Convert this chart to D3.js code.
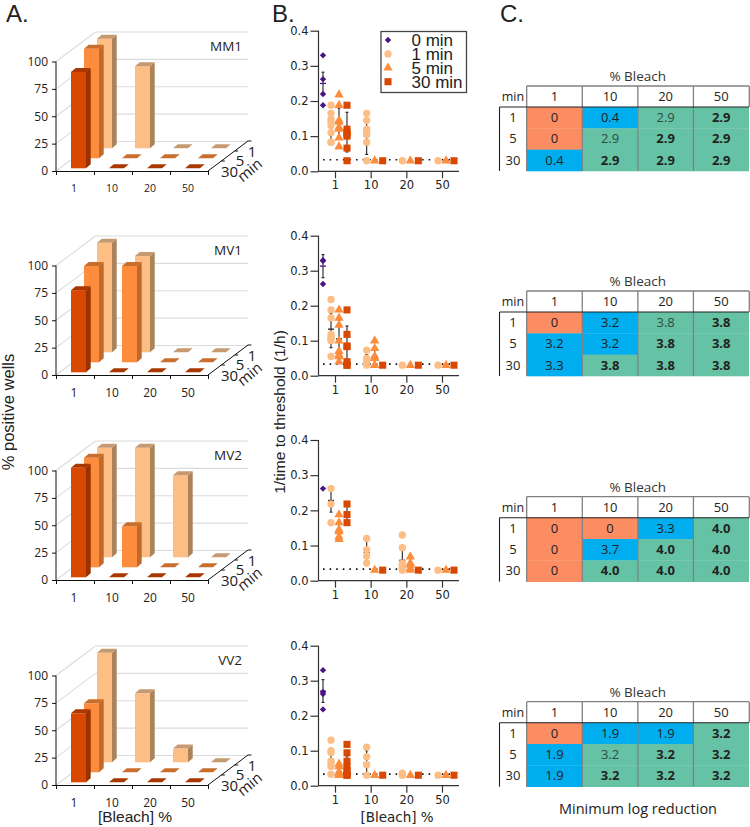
<!DOCTYPE html>
<html><head><meta charset="utf-8">
<script src="https://cdnjs.cloudflare.com/ajax/libs/d3/7.8.5/d3.min.js"></script>
<style>html,body{margin:0;padding:0;background:#fff}svg{display:block}</style>
</head><body><svg id="c" width="750" height="827"></svg>
<script>
const bleach = ["1","10","20","50"];
const exposure = ["30","5","1"];
const scatterSeries = ["0 min","1 min","5 min","30 min"];
const panels = ["MM1","MV1","MV2","VV2"];

// A: % positive wells, rows ordered 30, 5, 1 min
const pctMM1 = [[88,0,0,0],[100,0,0,0],[100,75,0,0]];
const pctMV1 = [[75,0,0,0],[88,88,0,0],[100,88,0,0]];
const pctMV2 = [[100,0,0,0],[100,37.5,0,0],[100,100,75,0]];
const pctVV2 = [[63,0,0,0],[63,0,0,0],[100,63,12.5,0]];
const pctTicks = [0,25,50,75,100];

// B: 1/time to threshold, [bleach][series]
const ptsMM1 = [
 [[.33,.262,.22,.188],[.188,.165,.148,.14,.13,.11,.083,.083],[.218,.188,.145,.14,.125,.12,.095,.07],[.188,.12,.11,.105,.1,.066,.03]],
 [[],[.165,.145,.12,.11,.105,.083,.03],[.03],[.03]],
 [[],[.03],[.03],[.03]],
 [[],[.03],[.03],[.03]]];
const ptsMV1 = [
 [[.33,.328,.262],[.218,.188,.165,.118,.11,.105,.1,.055],[.188,.165,.145,.1,.07,.06,.055,.04],[.188,.118,.085,.083,.04,.03,.03]],
 [[],[.073,.05,.045,.04,.035,.03],[.1,.078,.055,.05,.03,.03],[.03]],
 [[],[.03],[.03],[.03]],
 [[],[.03],[.03],[.03]]];
const ptsMV2 = [
 [[.262],[.262,.218,.165],[.188,.165,.145,.14,.125,.118],[.218,.188,.165]],
 [[],[.12,.088,.07,.05],[.03],[.03]],
 [[],[.13,.094,.05,.045,.04,.035,.03],[.068,.05,.045,.035,.03],[.03]],
 [[],[.03],[.03],[.03]]];
const ptsVV2 = [
 [[.33,.268,.262,.218],[.13,.1,.095,.07,.065,.055,.033],[.062,.055,.04,.035,.03,.03],[.118,.094,.07,.055,.045,.035,.03,.03]],
 [[],[.11,.083,.06,.03],[.03],[.03]],
 [[],[.036,.03],[.03],[.03]],
 [[],[.03],[.03],[.03]]];
// error bars: [bleach, series, mean, low, high]
const errMM1 = [[0,0,.25,.217,.282],[0,1,.13,.09,.17],[0,2,.14,.1,.18],[0,3,.11,.055,.168],[1,1,.1,.048,.15]];
const errMV1 = [[0,0,.313,.28,.346],[0,1,.133,.08,.178],[0,2,.105,.05,.16],[0,3,.09,.04,.142],[1,1,.045,.03,.06],[1,2,.055,.03,.08]];
const errMV2 = [[0,1,.228,.195,.262],[0,2,.145,.125,.165],[0,3,.19,.165,.215],[1,1,.08,.05,.115],[2,1,.058,.03,.09],[2,2,.04,.03,.055]];
const errVV2 = [[0,0,.27,.238,.303],[0,1,.075,.05,.1],[0,2,.04,.03,.055],[0,3,.06,.03,.085],[1,1,.065,.03,.1]];
const rateTicks = [0,.1,.2,.3,.4];
const threshold = .033;

// C: minimum log reduction, rows 1, 5, 30 min
const tableRows = ["1","5","30"];
const logMM1 = [[0,.4,2.9,2.9],[0,2.9,2.9,2.9],[.4,2.9,2.9,2.9]];
const logMV1 = [[0,3.2,3.8,3.8],[3.2,3.2,3.8,3.8],[3.3,3.8,3.8,3.8]];
const logMV2 = [[0,0,3.3,4.0],[0,3.7,4.0,4.0],[0,4.0,4.0,4.0]];
const logVV2 = [[0,1.9,1.9,3.2],[1.9,3.2,3.2,3.2],[1.9,3.2,3.2,3.2]];
const plainMM1 = [[0,2],[1,1]];
const plainMV1 = [[0,2]];
const plainMV2 = [];
const plainVV2 = [[1,1]];

const svg = d3.select("#c");
const SANS = "'Open Sans',sans-serif", ARIAL = "'Liberation Sans',Arial,sans-serif", DV = "'DejaVu Sans',sans-serif";
const INK = "#222";
function txt(g,x,y,s,size,font,opts={}){
  const t=g.append("text").attr("x",x).attr("y",y).text(s).attr("font-size",size).attr("font-family",font)
    .attr("fill",opts.fill||INK).attr("text-anchor",opts.anchor||"middle");
  if(opts.rot!==undefined) t.attr("transform",`rotate(${opts.rot} ${x} ${y})`);
  if(opts.weight) t.attr("font-weight",opts.weight);
  return t;
}

/* ---------- A ---------- */
const barFace = {"30":"#d94801","5":"#fd8d3c","1":"#fdbe85"};
const barTop  = {"30":"#a83800","5":"#c96f2e","1":"#c69a70"};
const barSide = {"30":"#983200","5":"#c2682a","1":"#ab8259"};
const depthDX=39.5, depthDY=29.5;
const barData=[pctMM1,pctMV1,pctMV2,pctVV2];
const barY0=[171,375,580,785];
const xLabelSize=[10.5,12,12,12];
function panelA(i){
  const y0=barY0[i], g=svg.append("g");
  const yS=d3.scaleLinear().domain([0,100]).range([y0,y0-109.5]);
  const xS=d3.scaleBand().domain(bleach).range([56,208]);
  const rowS=d3.scalePoint().domain(exposure).range([0,2]);
  const wall=g.append("g").attr("stroke","#dcdcdc").attr("stroke-width",1.1).attr("fill","none");
  pctTicks.forEach(v=>{
    const y=yS(v);
    wall.append("line").attr("x1",56).attr("y1",y).attr("x2",56+depthDX).attr("y2",y-depthDY);
    wall.append("line").attr("x1",56+depthDX).attr("y1",y-depthDY).attr("x2",248).attr("y2",y-depthDY);
  });
  const w=15, dx=4.7, dy=4, rowDX=13, rowDY=10;
  [...exposure].reverse().forEach(r=>{
    const vals=barData[i][exposure.indexOf(r)];
    bleach.forEach((b,c)=>{
      const v=vals[c], k=rowS(r);
      const x=xS(b)+15+k*rowDX, base=y0-2.7-k*rowDY, h=y0-yS(v), top=base-h;
      if(v>0){
        g.append("rect").attr("x",x).attr("y",top).attr("width",w).attr("height",h).attr("fill",barFace[r]);
        g.append("polygon").attr("points",[[x+w,top],[x+w+dx,top-dy],[x+w+dx,base-dy],[x+w,base]].join(" ")).attr("fill",barSide[r]);
      }
      g.append("polygon").attr("points",[[x,top],[x+dx,top-dy],[x+w+dx,top-dy],[x+w,top]].join(" ")).attr("fill",barTop[r]);
    });
  });
  const ax=g.append("g").attr("transform","translate(56,0)").call(d3.axisLeft(yS).tickValues(pctTicks).tickSize(4).tickPadding(4));
  ax.selectAll(".domain,line").attr("stroke","#111");
  ax.selectAll("text").attr("font-size",12).attr("font-family",SANS).attr("fill",INK);
  ax.select(".domain").attr("d",`M0,${y0}V${y0-109.5}`);
  const ticks=d3.range(5).map(n=>56+38*n);
  const bx=g.append("g").attr("transform",`translate(0,${y0})`).call(d3.axisBottom(d3.scaleIdentity().domain([56,208])).tickValues(ticks).tickSize(4).tickFormat(""));
  bx.selectAll(".domain,line").attr("stroke","#111");
  bleach.forEach((b,c)=>txt(g,xS(b)+18,y0+(i==0?21:22),b,xLabelSize[i],SANS));
  g.append("line").attr("x1",208).attr("y1",y0).attr("x2",248).attr("y2",y0-30).attr("stroke","#111");
  d3.range(1,4).forEach(n=>{const x=208+n*13.3,y=y0-n*10;g.append("line").attr("x1",x).attr("y1",y).attr("x2",x+3.5).attr("y2",y).attr("stroke","#111");});
  txt(g,229.5,y0+5.6,"30",15,SANS);
  txt(g,240,y0-5,"5",15,SANS);
  txt(g,252,y0-14.4,"1",15,SANS);
  txt(g,253,y0+3,"min",15,SANS,{rot:-40});
  txt(g,242,y0-120.5,panels[i],13.5,SANS,{anchor:"end"});
}

/* ---------- B ---------- */
const dotColor=["#4a1486","#fdbe85","#fd8d3c","#d94801"];
const symType=[d3.symbolSquare,d3.symbolCircle,d3.symbolTriangle,d3.symbolSquare];
const symSize=[20,42,38,50];
const symRot=[45,0,0,0];
const symGen=s=>d3.symbol().type(symType[s]).size(symSize[s])();
const rateY=[[171.3,30.7],[375.7,235.7],[580.7,440],[785.7,645.7]];
const ptsData=[ptsMM1,ptsMV1,ptsMV2,ptsVV2], errData=[errMM1,errMV1,errMV2,errVV2];
function panelB(i){
  const g=svg.append("g");
  const yS=d3.scaleLinear().domain([0,.4]).range(rateY[i]);
  const xS=d3.scalePoint().domain(bleach).range([335,442]);
  const off=d3.scalePoint().domain(scatterSeries).range([-12,12]);
  g.append("line").attr("x1",323).attr("x2",452).attr("y1",yS(threshold)).attr("y2",yS(threshold))
    .attr("stroke","#111").attr("stroke-width",1.6).attr("stroke-dasharray","1.6 5");
  errData[i].forEach(([c,s,m,lo,hi])=>{
    const x=xS(bleach[c])+off(scatterSeries[s]);
    const e=g.append("g").attr("stroke","#222").attr("stroke-width",1.1);
    e.append("line").attr("x1",x).attr("x2",x).attr("y1",yS(lo)).attr("y2",yS(hi));
    [lo,hi].forEach(v=>e.append("line").attr("x1",x-1.5).attr("x2",x+1.5).attr("y1",yS(v)).attr("y2",yS(v)));
    if(s!==0) e.append("line").attr("x1",x-3).attr("x2",x+3).attr("y1",yS(m)).attr("y2",yS(m)).attr("stroke-width",1.3);
  });
  ptsData[i].forEach((col,c)=>col.forEach((vals,s)=>{
    const x=xS(bleach[c])+off(scatterSeries[s]);
    g.selectAll(null).data(vals).enter().append("path").attr("d",symGen(s))
      .attr("transform",d=>`translate(${x},${yS(d)}) rotate(${symRot[s]})`).attr("fill",dotColor[s]);
  }));
  errData[i].filter(d=>d[1]===0).forEach(([c,s,m])=>{
    const x=xS(bleach[c])+off(scatterSeries[s]);
    g.append("line").attr("x1",x-3).attr("x2",x+3).attr("y1",yS(m)).attr("y2",yS(m)).attr("stroke",dotColor[0]).attr("stroke-width",1.3);
  });
  const ax=g.append("g").attr("transform","translate(318.5,0)").call(d3.axisLeft(yS).tickValues(rateTicks).tickSize(8).tickPadding(2).tickFormat(d3.format(".1f")));
  ax.selectAll(".domain,line").attr("stroke","#333").attr("stroke-width",1.2);
  ax.select(".domain").attr("d",`M0,${rateY[i][0]}V${rateY[i][1]}`);
  ax.selectAll("text").attr("font-size",11.5).attr("font-family",DV).attr("fill",INK);
  const bx=g.append("g").attr("transform",`translate(0,${rateY[i][0]})`).call(d3.axisBottom(xS).tickSize(7).tickPadding(3));
  bx.selectAll(".domain,line").attr("stroke","#333").attr("stroke-width",1.2);
  bx.select(".domain").attr("d","M318.5,0H459");
  bx.selectAll("text").attr("font-size",11.5).attr("font-family",DV).attr("fill",INK);
}

/* ---------- C ---------- */
const tableTop=[86,291,496.7,701.7];
const tableData=[logMM1,logMV1,logMV2,logVV2], plainData=[plainMM1,plainMV1,plainMV2,plainVV2];
const CELL={zero:"#fc8d62",mid:"#00aeef",top:"#66c2a5"};
function panelC(i){
  const g=svg.append("g"), t=tableTop[i], data=tableData[i], plain=plainData[i];
  const xS=d3.scaleBand().domain(bleach).range([526.7,749]);
  const yS=d3.scaleBand().domain(tableRows).range([t+21,t+85]);
  const mx=d3.max(data.flat());
  data.forEach((row,r)=>row.forEach((v,c)=>{
    const kind=v===0?"zero":(v===mx?"top":"mid");
    const isPlain=plain.some(p=>p[0]===r&&p[1]===c);
    const x=xS(bleach[c]), y=yS(tableRows[r]);
    g.append("rect").attr("x",x).attr("y",y).attr("width",xS.bandwidth()).attr("height",yS.bandwidth()+.3).attr("fill",CELL[kind]);
    txt(g,x+xS.bandwidth()/2,y+15,v===0?"0":v.toFixed(1),13,SANS,{weight:(kind==="top"&&!isPlain)?"700":"400",fill:(kind==="top"&&isPlain)?"#2f4a41":INK});
  }));
  txt(g,637.7,t-5,"% Bleach",13.5,SANS,{fill:"#333"});
  bleach.forEach(b=>txt(g,xS(b)+xS.bandwidth()/2,t+15,b,13,SANS));
  txt(g,513,t+15,"min",12.5,SANS);
  tableRows.forEach(r=>txt(g,513,yS(r)+15,r,13,SANS));
  const lines=g.append("g").attr("stroke","#808080").attr("stroke-width",1.3);
  [0,1,2,3].forEach(c=>lines.append("line").attr("x1",xS(bleach[c])).attr("x2",xS(bleach[c])).attr("y1",t).attr("y2",t+85));
  lines.append("line").attr("x1",526.7).attr("x2",749).attr("y1",t).attr("y2",t);
  g.append("line").attr("x1",749.3).attr("x2",749.3).attr("y1",t).attr("y2",t+21).attr("stroke","#808080").attr("stroke-width",1.3);
  g.append("line").attr("x1",499.5).attr("x2",749).attr("y1",t+21).attr("y2",t+21).attr("stroke","#222").attr("stroke-width",1.1);
  g.append("line").attr("x1",499.5).attr("x2",499.5).attr("y1",t+21).attr("y2",t+85).attr("stroke","#222").attr("stroke-width",1.1);
}

d3.range(4).forEach(i=>{panelA(i);panelB(i);panelC(i);});

/* ---------- legend & labels ---------- */
const lg=svg.append("g");
lg.append("rect").attr("x",381).attr("y",31.5).attr("width",85.5).attr("height",61).attr("fill","#fff").attr("stroke","#444").attr("stroke-width",1.3);
scatterSeries.forEach((s,k)=>{
  const y=40+k*13.9;
  lg.append("path").attr("d",symGen(k)).attr("transform",`translate(388,${y}) rotate(${symRot[k]})`).attr("fill",dotColor[k]);
  txt(lg,411.5,y+6,s,17,ARIAL,{anchor:"start"});
});
txt(svg,6,22,"A.",24,ARIAL,{anchor:"start"});
txt(svg,272,22,"B.",24,ARIAL,{anchor:"start"});
txt(svg,500,22,"C.",24,ARIAL,{anchor:"start"});
txt(svg,14,412,"% positive wells",16.5,ARIAL,{rot:-90});
txt(svg,285,412,"1/time to threshold (1/h)",15.5,ARIAL,{rot:-90});
txt(svg,135,822,"[Bleach] %",15.5,ARIAL);
txt(svg,397,822,"[Bleach] %",13.5,DV);
txt(svg,638,814,"Minimum log reduction",14.5,SANS);
</script></body></html>
